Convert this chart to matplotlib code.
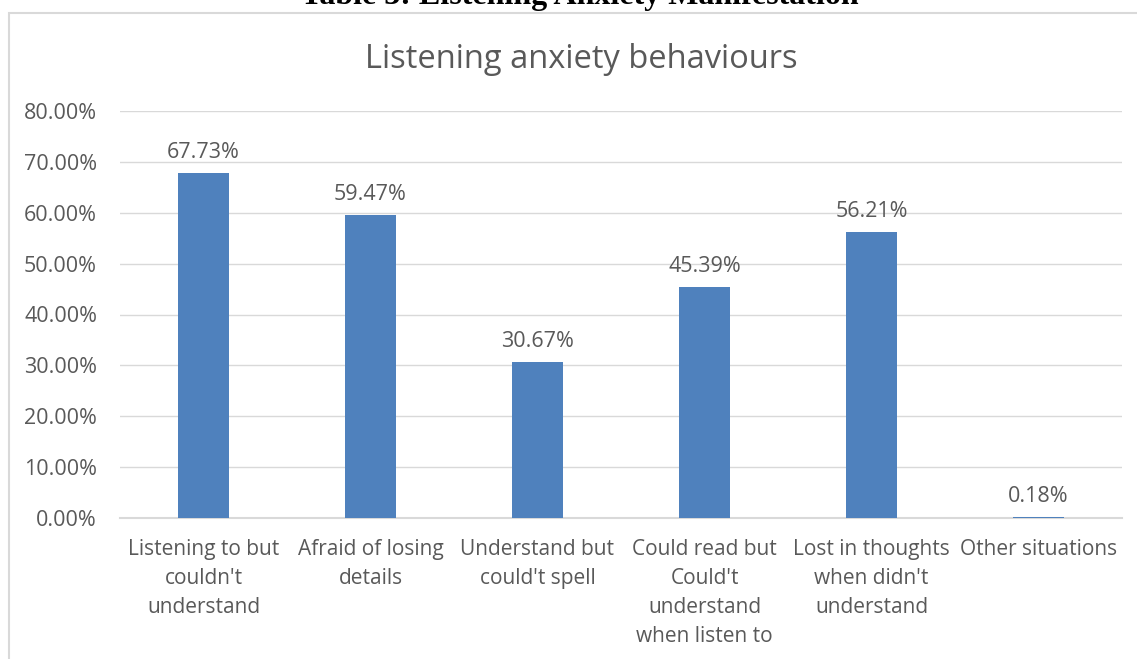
import matplotlib
matplotlib.use("Agg")
import matplotlib.pyplot as plt
from matplotlib.patches import Rectangle
from matplotlib.ticker import FuncFormatter, MultipleLocator

categories = [
    "Listening to but\ncouldn't\nunderstand",
    "Afraid of losing\ndetails",
    "Understand but\ncould't spell",
    "Could read but\nCould't\nunderstand\nwhen listen to",
    "Lost in thoughts\nwhen didn't\nunderstand",
    "Other situations",
]
values = [67.73, 59.47, 30.67, 45.39, 56.21, 0.18]

text_color = "#595959"
bar_color = "#4f81bd"
grid_color = "#d9d9d9"

plt.rcParams["font.family"] = ["Open Sans", "DejaVu Sans"]

fig = plt.figure(figsize=(11.37, 6.59), dpi=100)
fig.patch.set_facecolor("white")

# caption above the chart frame, partly off the top edge
fig.text(0.51, 1 - 4 / 659, "Table 3: Listening Anxiety Manifestation",
         family="Liberation Serif", fontweight="bold", fontsize=23,
         color="black", ha="center", va="baseline")

# chart frame
fig.patches.append(Rectangle((9 / 1137, -0.05), 1.2, 1 - 13 / 659 + 0.05,
                             transform=fig.transFigure, fill=False,
                             edgecolor=grid_color, linewidth=1.5))

ax = fig.add_axes([120 / 1137, 1 - 518 / 659, (1122 - 120) / 1137, (518 - 111) / 659])
x = list(range(len(categories)))
ax.bar(x, values, width=0.31, color=bar_color, zorder=3)
for xi, v in zip(x, values):
    ax.text(xi, v + 2.0, f"{v:.2f}%", ha="center", va="bottom",
            fontsize=15.5, color=text_color)

ax.set_xlim(-0.5, len(categories) - 0.5)
ax.set_ylim(0, 80)
ax.yaxis.set_major_locator(MultipleLocator(10))
ax.yaxis.set_major_formatter(FuncFormatter(lambda v, p: f"{v:.2f}%"))
ax.grid(axis="y", color=grid_color, linewidth=1, zorder=0)
ax.set_xticks(x)
ax.set_xticklabels(categories, fontsize=15, color=text_color, linespacing=1.5)
ax.tick_params(axis="both", length=0, labelcolor=text_color)
ax.tick_params(axis="y", pad=16.5, labelsize=15.5)
ax.tick_params(axis="x", pad=15, labelsize=15)
for side in ["top", "right", "left"]:
    ax.spines[side].set_visible(False)
ax.spines["bottom"].set_color(grid_color)
ax.spines["bottom"].set_linewidth(1.5)

fig.text(581 / 1137, 1 - 60 / 659, "Listening anxiety behaviours",
         ha="center", va="center", fontsize=23.5, color=text_color)

fig.savefig("out.png", dpi=100)
